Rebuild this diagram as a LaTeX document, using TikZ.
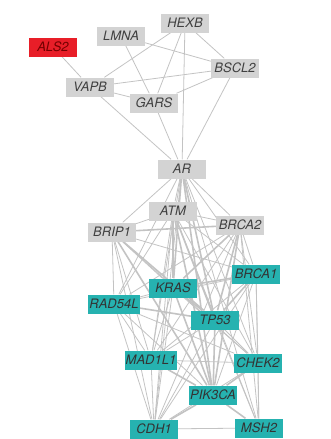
\documentclass[tikz,border=0pt]{standalone}
\definecolor{genegray}{RGB}{211, 211, 211}
\definecolor{geneteal}{RGB}{38, 178, 176}
\definecolor{genered}{RGB}{232, 30, 40}
\definecolor{edgegray}{RGB}{195, 195, 195}
\usepackage{fontspec}
\setmainfont{TeX Gyre Heros}
\usetikzlibrary{backgrounds}

\begin{document}
\begin{tikzpicture}[x=1pt, y=-1pt,
        gene/.style={fill=genegray, text=black!75, minimum width=48pt, minimum height=19pt, inner sep=1pt, font=\fontsize{13}{15}\selectfont\itshape},
        mut/.style={gene, fill=geneteal, text=black!80},
        als/.style={gene, fill=genered, text=red!45!black},
        link/.style={edgegray, line width=0.8pt},
        heavy/.style={edgegray, line width=1.6pt}]
                \useasboundingbox (0,0) rectangle (330,439);
                \node[als] (ALS2) at (53,47) {ALS2};
                \node[gene] (LMNA) at (121,36) {LMNA};
                \node[gene] (HEXB) at (185,23) {HEXB};
                \node[gene] (BSCL2) at (235,68) {BSCL2};
                \node[gene] (VAPB) at (90,87) {VAPB};
                \node[gene] (GARS) at (154,103) {GARS};
                \node[gene] (AR) at (182,169) {AR};
                \node[gene] (ATM) at (173,211) {ATM};
                \node[gene] (BRCA2) at (240,225) {BRCA2};
                \node[gene] (BRIP1) at (112,232) {BRIP1};
                \node[mut] (BRCA1) at (256,274) {BRCA1};
                \node[mut] (KRAS) at (173,288) {KRAS};
                \node[mut] (RAD54L) at (114,304) {RAD54L};
                \node[mut] (TP53) at (215,320) {TP53};
                \node[mut] (MAD1L1) at (151,360) {MAD1L1};
                \node[mut] (CHEK2) at (258,363) {CHEK2};
                \node[mut] (PIK3CA) at (213,395) {PIK3CA};
                \node[mut] (CDH1) at (154,429) {CDH1};
                \node[mut] (MSH2) at (259,428) {MSH2};
                \begin{scope}[on background layer]
                % upper cluster
                \foreach \a/\b in {ALS2/VAPB, LMNA/BSCL2, LMNA/GARS, HEXB/VAPB, HEXB/GARS, HEXB/BSCL2, HEXB/AR,
                        VAPB/BSCL2, VAPB/GARS, VAPB/AR, GARS/BSCL2, GARS/AR, BSCL2/AR}
                    \draw[link] (\a) -- (\b);
                % lower cluster
                \foreach \a/\b in {AR/ATM, AR/BRIP1, AR/BRCA2, AR/BRCA1, AR/RAD54L, AR/MAD1L1, AR/CHEK2, AR/CDH1, AR/MSH2,
                        BRIP1/ATM, BRIP1/RAD54L, BRIP1/CDH1, BRIP1/MAD1L1, BRIP1/KRAS, BRIP1/BRCA1, BRIP1/CHEK2,
                        ATM/BRCA2, ATM/CHEK2, ATM/MSH2, ATM/RAD54L, ATM/MAD1L1, ATM/CDH1, ATM/BRCA1,
                        BRCA2/BRCA1, BRCA2/RAD54L, BRCA2/CHEK2, BRCA2/MAD1L1, BRCA2/CDH1, BRCA2/MSH2,
                        BRCA1/RAD54L, BRCA1/CHEK2, BRCA1/PIK3CA, BRCA1/CDH1, BRCA1/MSH2, BRCA1/MAD1L1,
                        KRAS/RAD54L, KRAS/CHEK2, KRAS/CDH1, KRAS/MAD1L1,
                        RAD54L/MAD1L1, RAD54L/CDH1, RAD54L/PIK3CA, RAD54L/CHEK2,
                        TP53/CHEK2, TP53/MAD1L1, TP53/CDH1, TP53/MSH2,
                        MAD1L1/CHEK2, MAD1L1/CDH1, CHEK2/MSH2, CHEK2/CDH1, CDH1/MSH2}
                    \draw[link] (\a) -- (\b);
                \foreach \a/\b in {AR/KRAS, AR/TP53, AR/PIK3CA, BRIP1/BRCA2, BRIP1/TP53, BRIP1/PIK3CA,
                        ATM/TP53, ATM/KRAS, ATM/PIK3CA, BRCA2/KRAS, BRCA2/TP53, BRCA2/PIK3CA,
                        BRCA1/KRAS, BRCA1/TP53, KRAS/TP53, KRAS/PIK3CA, RAD54L/TP53,
                        TP53/PIK3CA, MAD1L1/PIK3CA, CHEK2/PIK3CA, PIK3CA/CDH1, PIK3CA/MSH2}
                    \draw[heavy] (\a) -- (\b);
                \end{scope}
            \end{tikzpicture}
\end{document}
